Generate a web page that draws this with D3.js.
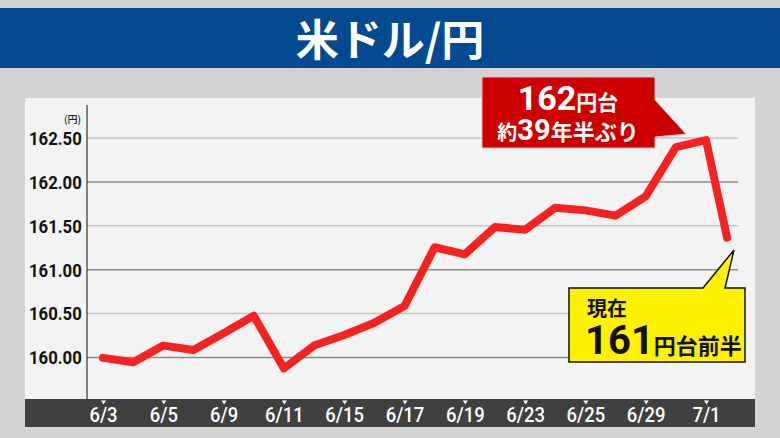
<!DOCTYPE html>
<html>
<head>
<meta charset="utf-8">
<script src="https://cdn.jsdelivr.net/npm/d3@7/dist/d3.min.js"></script>
<style>
  html, body { margin: 0; padding: 0; background: #d3d3d3; }
  svg { display: block; }
  .jp { font-family: "Noto Sans CJK JP", sans-serif; font-weight: 700; }
</style>
</head>
<body>
<svg width="780" height="438"></svg>
<script>
// daily USD/JPY (index 0 = 6/3, last point = current quote)
var pointIndex = [0, 1, 2, 3, 4, 5, 6, 7, 8, 9, 10, 11, 12, 13, 14, 15, 16, 17, 18, 19, 20, 20.7];
var rates = [159.99, 159.94, 160.13, 160.08, 160.27, 160.47, 159.87, 160.13, 160.25, 160.39, 160.58,
             161.25, 161.17, 161.48, 161.45, 161.70, 161.67, 161.61, 161.83, 162.39, 162.47, 161.36];
var tickIndex = [0, 2, 4, 6, 8, 10, 12, 14, 16, 18, 20];
var tickLabels = ["6/3", "6/5", "6/9", "6/11", "6/15", "6/17", "6/19", "6/23", "6/25", "6/29", "7/1"];
var yTicks = [160, 160.5, 161, 161.5, 162, 162.5];

var svg = d3.select("svg");

// title bar
svg.append("rect").attr("x", 0).attr("y", 8).attr("width", 780).attr("height", 60).attr("fill", "#034a90");
svg.append("text").attr("class", "jp")
    .attr("x", 390).attr("y", 56)
    .attr("text-anchor", "middle")
    .attr("fill", "#fff")
    .style("font-size", "43px")
    .text("米ドル/円");

// panel
svg.append("rect").attr("x", 25).attr("y", 98).attr("width", 730).attr("height", 301).attr("fill", "#f3f3f3");
svg.append("rect").attr("x", 25).attr("y", 399).attr("width", 730).attr("height", 28).attr("fill", "#404040");

var x = d3.scaleLinear().domain([0, 20]).range([103, 706]);
var y = d3.scaleLinear().domain([160, 162.5]).range([357, 137.5]);

// y axis with grid
var yAxis = svg.append("g")
    .attr("transform", "translate(87,0)")
    .call(d3.axisLeft(y).tickValues(yTicks).tickSize(-651).tickPadding(6).tickFormat(d3.format(".2f")));
yAxis.select(".domain").remove();
yAxis.selectAll(".tick line")
    .attr("stroke", function(d) { return d % 1 === 0 ? "#8c8c8c" : "#c4c4c4"; })
    .attr("stroke-width", 1.5);
yAxis.selectAll(".tick text")
    .attr("fill", "#111")
    .attr("dy", "0.36em")
    .attr("transform", "scale(0.88,1)")
    .style("font-family", "Roboto, sans-serif")
    .style("font-weight", "700")
    .style("font-size", "19px");

svg.append("line").attr("x1", 87).attr("x2", 87).attr("y1", 105).attr("y2", 399)
    .attr("stroke", "#333").attr("stroke-width", 1.2);

svg.append("text").attr("class", "jp")
    .attr("x", 81).attr("y", 123).attr("text-anchor", "end")
    .attr("fill", "#222").style("font-size", "10px").style("font-weight", "500")
    .text("(円)");

// x axis in the dark band
var xAxis = svg.append("g")
    .attr("transform", "translate(0,399)")
    .call(d3.axisBottom(x).tickValues(tickIndex).tickSize(0).tickPadding(8)
      .tickFormat(function(d, i) { return tickLabels[i]; }));
xAxis.select(".domain").remove();
xAxis.selectAll(".tick").append("path")
    .attr("d", "M-2.5,1.5L2.5,1.5L0,5.5Z")
    .attr("fill", "#fff");
xAxis.selectAll(".tick text")
    .attr("fill", "#fff")
    .attr("transform", "scale(0.88,1)")
    .style("font-family", "Roboto, sans-serif")
    .style("font-weight", "500")
    .style("font-size", "21px");

// rate line
var line = d3.line()
    .x(function(d, i) { return x(pointIndex[i]); })
    .y(function(d) { return y(d); });
svg.append("path")
    .datum(rates)
    .attr("d", line)
    .attr("fill", "none")
    .attr("stroke", "#f52222")
    .attr("stroke-width", 8)
    .attr("stroke-linejoin", "round")
    .attr("stroke-linecap", "round");

// red callout
svg.append("path")
    .attr("d", "M482,77H655V100L686,134L655,137V148H482Z")
    .attr("fill", "#cc0000").attr("stroke", "#e8bcbc").attr("stroke-width", 1);
var t1 = svg.append("text").attr("class", "jp").attr("x", 568).attr("y", 110)
    .attr("text-anchor", "middle").attr("fill", "#fff");
t1.append("tspan").style("font-family", "Roboto, sans-serif").style("font-size", "34px").text("162");
t1.append("tspan").style("font-size", "21px").text("円台");
var t2 = svg.append("text").attr("class", "jp").attr("x", 568).attr("y", 140)
    .attr("text-anchor", "middle").attr("fill", "#fff");
t2.append("tspan").style("font-size", "20px").text("約");
t2.append("tspan").style("font-family", "Roboto, sans-serif").style("font-size", "29px").text("39");
t2.append("tspan").style("font-size", "22px").text("年半ぶり");

// yellow callout
svg.append("path")
    .attr("d", "M569,288H703L734,250L725,288H745V362H569Z")
    .attr("fill", "#fff200").attr("stroke", "#111").attr("stroke-width", 1.5);
svg.append("text").attr("class", "jp").attr("x", 587).attr("y", 316)
    .attr("fill", "#111").style("font-size", "20px").text("現在");
var t3 = svg.append("text").attr("class", "jp").attr("x", 585).attr("y", 354).attr("fill", "#111");
t3.append("tspan").style("font-family", "Roboto, sans-serif").style("font-size", "40px").text("161");
t3.append("tspan").style("font-size", "22px").text("円台前半");
</script>
</body>
</html>
